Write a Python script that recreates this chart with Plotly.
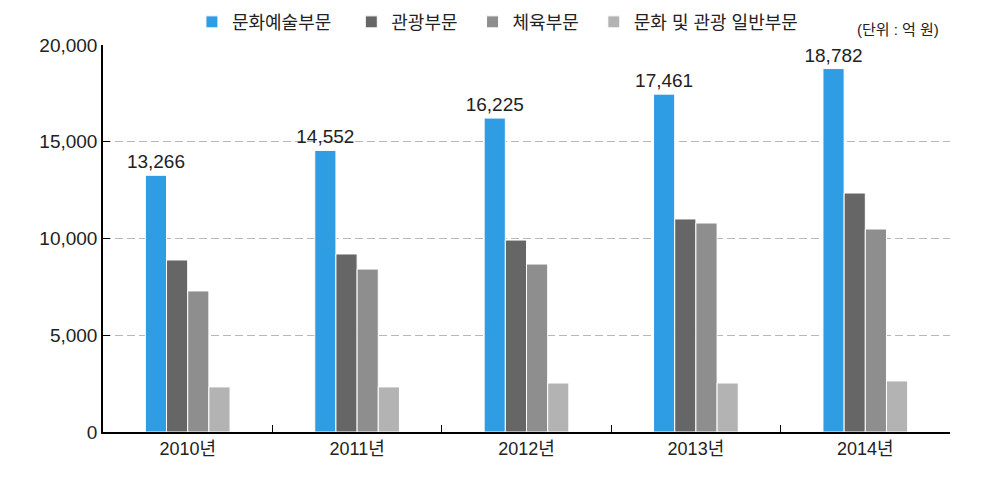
import plotly.graph_objects as go

years = ["2010년", "2011년", "2012년", "2013년", "2014년"]

arts = [13266, 14552, 16225, 17461, 18782]
tourism = [8890, 9200, 9920, 11010, 12350]
sports = [7290, 8420, 8680, 10800, 10490]
general = [2330, 2330, 2530, 2530, 2640]

series_names = ["문화예술부문", "관광부문", "체육부문", "문화 및 관광 일반부문"]
colors = ["#2f9de4", "#666666", "#8e8e8e", "#b3b3b3"]
# extra legend spacing after each entry (non-breaking spaces)
legend_pad = [3, 2, 2, 0]

FONT = "Liberation Sans, Arial, Noto Sans CJK KR, sans-serif"

fig = go.Figure()

for i, (name, vals) in enumerate(zip(series_names, [arts, tourism, sports, general])):
    # only the first series gets value labels
    fig.add_trace(go.Bar(
        x=years,
        y=vals,
        name=name + "\u00a0" * legend_pad[i],
        marker=dict(color=colors[i], line=dict(color="white", width=1)),
        text=[f"{v:,}" for v in vals] if i == 0 else None,
        textposition="outside" if i == 0 else "none",
        constraintext="none",
        textfont=dict(size=19, color="#222222"),
        cliponaxis=False,
    ))

fig.add_annotation(
    text="(단위 : 억 원)", xref="paper", yref="paper",
    x=0.989, y=1.039, xanchor="right", yanchor="middle",
    showarrow=False, font=dict(size=15, color="#222222"),
)

# page adds ~8px body margin, so margins are trimmed to land the plot area
fig.update_layout(
    width=995, height=491,
    margin=dict(l=95, r=53, t=37, b=67, autoexpand=False),
    plot_bgcolor="white",
    paper_bgcolor="white",
    font=dict(family=FONT, size=16, color="#222222"),
    barmode="group",
    bargap=0.5,
    bargroupgap=0,
    showlegend=True,
    legend=dict(
        orientation="h", x=0.105, y=1.059, xanchor="left", yanchor="middle",
        font=dict(size=18), itemwidth=30, traceorder="normal",
    ),
    xaxis=dict(
        showline=True, linecolor="black", linewidth=1.5,
        ticks="inside", tickson="boundaries", ticklen=7, tickcolor="black",
        tickfont=dict(size=18), showgrid=False,
    ),
    yaxis=dict(
        range=[0, 20000], dtick=5000, tickformat=",",
        showline=True, linecolor="black", linewidth=1.5,
        ticks="inside", ticklen=7, tickcolor="black",
        tickfont=dict(size=19),
        showgrid=True, gridcolor="#b8b8b8", griddash="8px,4px", gridwidth=1,
        zeroline=False,
    ),
)

fig.write_html("out.html")
